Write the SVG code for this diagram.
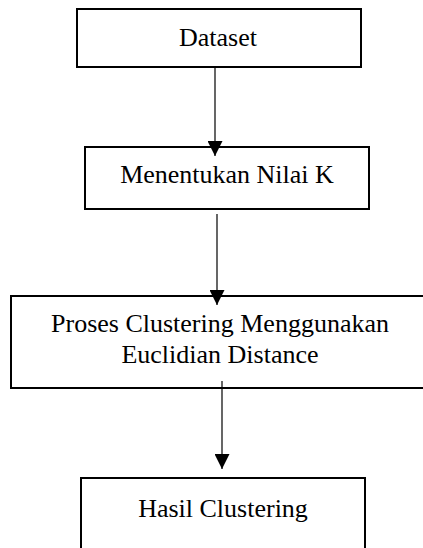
<svg xmlns="http://www.w3.org/2000/svg" width="423" height="548" viewBox="0 0 423 548">
  <style>
    .box { fill: #ffffff; stroke: #000000; stroke-width: 2; }
    .lbl { font-family: "Liberation Serif", "Times New Roman", serif; font-size: 26px; fill: #000000; text-anchor: middle; }
    .edge { stroke: #000000; stroke-width: 1.2; fill: none; }
  </style>
  <defs>
    <marker id="arr" viewBox="0 0 10 10" refX="10" refY="5" markerWidth="15" markerHeight="15" markerUnits="userSpaceOnUse" orient="auto">
      <path d="M0,0 L10,5 L0,10 Z" fill="#000000"/>
    </marker>
  </defs>
  <rect width="423" height="548" fill="#ffffff"/>
  <g id="node-dataset">
    <rect class="box" x="77" y="9" width="284" height="58"/>
    <text class="lbl" x="218" y="46">Dataset</text>
  </g>
  <g id="node-nilaik">
    <rect class="box" x="85" y="147" width="284" height="62"/>
    <text class="lbl" x="227" y="183">Menentukan Nilai K</text>
  </g>
  <g id="node-proses">
    <rect class="box" x="11" y="296" width="420" height="92"/>
    <text class="lbl" x="220" y="332">Proses Clustering Menggunakan</text>
    <text class="lbl" x="220" y="363">Euclidian Distance</text>
  </g>
  <g id="node-hasil">
    <rect class="box" x="81" y="478" width="284" height="80"/>
    <text class="lbl" x="223" y="517">Hasil Clustering</text>
  </g>
  <g id="connectors">
    <line class="edge" x1="215" y1="67" x2="215" y2="156" marker-end="url(#arr)"/>
    <line class="edge" x1="217" y1="214" x2="217" y2="305" marker-end="url(#arr)"/>
    <line class="edge" x1="222" y1="381" x2="222" y2="469" marker-end="url(#arr)"/>
  </g>
</svg>
